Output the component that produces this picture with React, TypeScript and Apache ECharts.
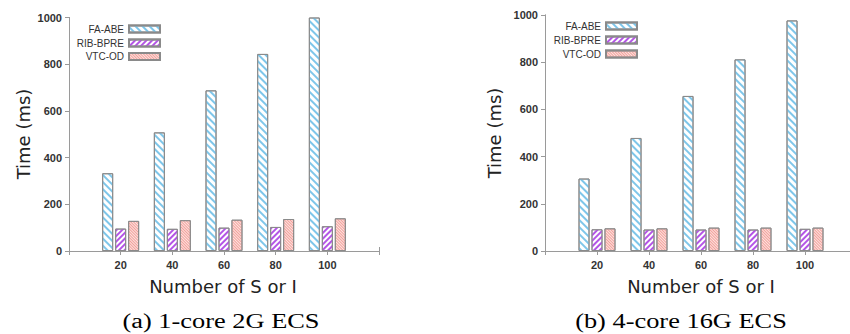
import React, { useEffect, useRef } from "react";
import * as echarts from "echarts";

const categories = [20, 40, 60, 80, 100];
const seriesNames = ["FA-ABE", "RIB-BPRE", "VTC-OD"];
// (a) 1-core 2G ECS
const faAbeA = [333, 508, 688, 844, 1000];
const ribBpreA = [96, 95, 100, 103, 106];
const vtcOdA = [129, 132, 134, 137, 140];
// (b) 4-core 16G ECS
const faAbeB = [307, 479, 657, 812, 977];
const ribBpreB = [92, 91, 91, 91, 94];
const vtcOdB = [96, 96, 99, 99, 99];
const yTicks = [0, 200, 400, 600, 800, 1000];
const captions = ["(a) 1-core 2G ECS", "(b) 4-core 16G ECS"];
const xTitle = "Number of S or I";
const yTitle = "Time (ms)";

export default function App() {
  const ref = useRef<HTMLDivElement>(null);
  useEffect(() => {
    if (!ref.current) return;
    const chart = echarts.init(ref.current, undefined, { renderer: "svg" });

    const decals = [
      { symbol: "rect", symbolSize: 1, rotation: Math.PI / 4, dashArrayX: [1, 0], dashArrayY: [2, 3], color: "#7ec6ea" },
      { symbol: "rect", symbolSize: 1, rotation: -Math.PI / 4, dashArrayX: [1, 0], dashArrayY: [2, 2], color: "#b455e6" },
      { symbol: "rect", symbolSize: 1, rotation: Math.PI / 4, dashArrayX: [1, 0], dashArrayY: [1, 1], color: "#f2a09c" },
    ];
    const fills = ["#ffffff", "#ffffff", "#fde3df"];

    const grids = [
      { left: 69, width: 310, top: 17.5, height: 233.5 },
      { left: 545, width: 312, top: 15, height: 236 },
    ];
    const yMax = yTicks[yTicks.length - 1];
    const axisColor = "#9a9a9a";
    const labelFont = { fontFamily: "Liberation Sans", fontSize: 11, fontWeight: "bold" as const, color: "#333" };

    const xAxes: any[] = [];
    const yAxes: any[] = [];
    grids.forEach((_, g) => {
      xAxes.push({
        type: "value", gridIndex: g, min: 0, max: 120, interval: 20, position: "bottom",
        axisLine: { show: true, lineStyle: { color: axisColor, width: 1 } },
        axisTick: { show: true, inside: true, length: 4, lineStyle: { color: axisColor } },
        splitLine: { show: false },
        axisLabel: { ...labelFont, margin: 8, formatter: (v: number) => (categories.includes(v) ? String(v) : "") },
      });
      xAxes.push({
        type: "value", gridIndex: g, min: 0, max: 120, interval: 20, position: "top",
        axisLine: { show: true, lineStyle: { color: axisColor, width: 1 } },
        axisTick: { show: true, inside: true, length: 4, lineStyle: { color: axisColor } },
        splitLine: { show: false },
        axisLabel: { show: false },
      });
      yAxes.push({
        type: "value", gridIndex: g, min: 0, max: yMax, interval: 200, position: "left",
        axisLine: { show: true, lineStyle: { color: axisColor, width: 1 } },
        axisTick: { show: true, inside: false, length: 4, lineStyle: { color: axisColor } },
        splitLine: { show: false },
        axisLabel: { ...labelFont, margin: 7, formatter: (v: number) => String(v) },
      });
      yAxes.push({
        type: "value", gridIndex: g, min: 0, max: yMax, interval: 200, position: "right",
        axisLine: { show: true, lineStyle: { color: axisColor, width: 1 } },
        axisTick: { show: true, inside: true, length: 4, lineStyle: { color: axisColor } },
        splitLine: { show: false },
        axisLabel: { show: false },
      });
    });

    const dataSets = [
      [faAbeA, ribBpreA, vtcOdA],
      [faAbeB, ribBpreB, vtcOdB],
    ];
    const series: any[] = [];
    dataSets.forEach((sets, g) => {
      sets.forEach((vals, s) => {
        series.push({
          type: "bar",
          name: seriesNames[s],
          xAxisIndex: g * 2,
          yAxisIndex: g * 2,
          barWidth: 11,
          barGap: "18%",
          data: categories.map((c, i) => [c, vals[i]]),
          itemStyle: { color: fills[s], borderColor: "#8a8a8a", borderWidth: 1, decal: decals[s] },
        });
      });
    });

    const legendPos = [
      { right: 850 - 161, tops: [24, 38, 51.5] },
      { right: 850 - 638, tops: [21, 35, 49] },
    ];
    const legends: any[] = [];
    legendPos.forEach((lp) => {
      seriesNames.forEach((n, s) => {
        legends.push({
          data: [n], right: lp.right, top: lp.tops[s], padding: 0, align: "right", orient: "vertical",
          itemWidth: 31, itemHeight: 7, selectedMode: false,
          icon: "rect",
          textStyle: { fontFamily: "Liberation Sans", fontSize: 10, color: "#333" },
        });
      });
    });

    const titleFont = "18px 'DejaVu Sans'";
    const capFont = "20px 'Liberation Serif'";
    const graphic: any[] = [
      { type: "text", x: 23, y: 134, rotation: Math.PI / 2, style: { text: yTitle, font: titleFont, fill: "#222", align: "center", verticalAlign: "middle" } },
      { type: "text", x: 494, y: 133, rotation: Math.PI / 2, style: { text: yTitle, font: titleFont, fill: "#222", align: "center", verticalAlign: "middle" } },
      { type: "text", x: 223, y: 286, style: { text: xTitle, font: titleFont, fill: "#222", align: "center", verticalAlign: "middle" } },
      { type: "text", x: 701, y: 286, style: { text: xTitle, font: titleFont, fill: "#222", align: "center", verticalAlign: "middle" } },
      { type: "text", x: 221, y: 321, scaleX: 1.32, style: { text: captions[0], font: capFont, fill: "#000", align: "center", verticalAlign: "middle" } },
      { type: "text", x: 681, y: 321, scaleX: 1.32, style: { text: captions[1], font: capFont, fill: "#000", align: "center", verticalAlign: "middle" } },
    ];

    chart.setOption({
      animation: false,
      backgroundColor: "#ffffff",
      grid: grids.map((g) => ({ ...g, containLabel: false, outerBoundsMode: "none" })),
      xAxis: xAxes,
      yAxis: yAxes,
      legend: legends,
      series,
      graphic,
    });
    return () => chart.dispose();
  }, []);
  return <div ref={ref} style={{ position: "absolute", left: 0, top: 0, width: 850, height: 334 }} />;
}
